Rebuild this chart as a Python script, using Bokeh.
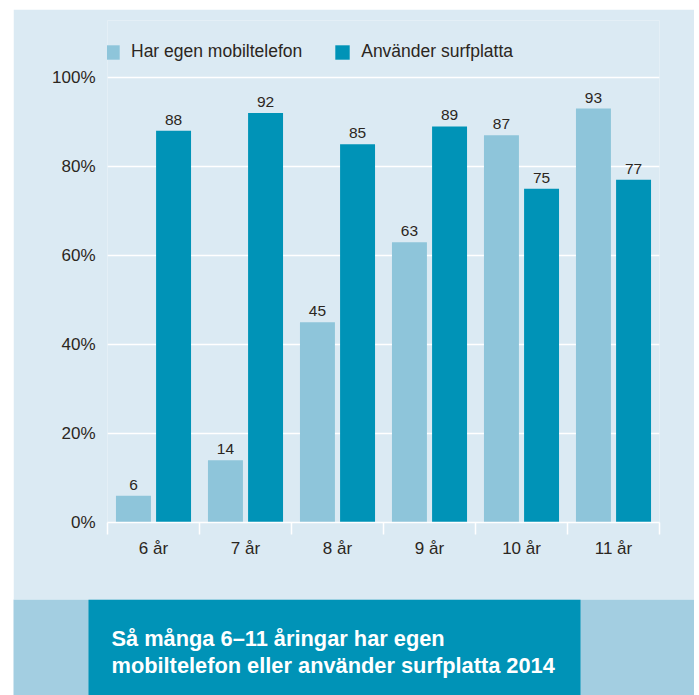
import numpy as np
from bokeh.plotting import figure
from bokeh.models import (ColumnDataSource, Range1d, FixedTicker, Legend, LegendItem,
                          PrintfTickFormatter, BoxAnnotation, Label)
from bokeh.transform import dodge
from bokeh.core.properties import value
from bokeh.embed import file_html
from bokeh.resources import INLINE

# ---- data ----
categories = ["6 år", "7 år", "8 år", "9 år", "10 år", "11 år"]
mobil = [6, 14, 45, 63, 87, 93]
surf = [88, 92, 85, 89, 75, 77]
series_names = ["Har egen mobiltelefon", "Använder surfplatta"]
y_ticks = [0, 20, 40, 60, 80, 100]
title_lines = ["Så många 6–11 åringar har egen",
               "mobiltelefon eller använder surfplatta 2014"]

PANEL = "#dbeaf3"
LIGHT = "#8ec5da"
DARK = "#0093b7"
BAND = "#a3cee1"
TXT = "#2b2621"
FONT = "Liberation Sans"

pos = np.arange(len(categories)) + 0.5
src = ColumnDataSource(dict(pos=pos, mobil=mobil, surf=surf,
                            mobil_lbl=[str(v) for v in mobil],
                            surf_lbl=[str(v) for v in surf]))

p = figure(width=681, height=590, output_backend="svg", toolbar_location=None,
           x_range=Range1d(0, len(categories)), y_range=Range1d(0, 112.8),
           min_border_left=94, min_border_right=35, min_border_top=11, min_border_bottom=77)
p.margin = (9, 0, 0, 13)
p.background_fill_color = PANEL
p.border_fill_color = PANEL
p.outline_line_color = None

off = 0.218
w = 0.38
r1 = p.vbar(x=dodge("pos", -off, range=p.x_range), top="mobil", width=w, source=src,
            color=LIGHT, line_color=None)
r2 = p.vbar(x=dodge("pos", off, range=p.x_range), top="surf", width=w, source=src,
            color=DARK, line_color=None)

for col, o in (("mobil", -off), ("surf", off)):
    p.text(x=dodge("pos", o, range=p.x_range), y=col, text=col + "_lbl", source=src,
           text_font=value(FONT), text_font_size="15.5px", text_color=TXT,
           text_align="center", text_baseline="alphabetic", y_offset=-11)

# y axis
p.yaxis.ticker = FixedTicker(ticks=y_ticks)
p.yaxis.formatter = PrintfTickFormatter(format="%d%%")
p.yaxis.axis_line_color = None
p.yaxis.major_tick_line_color = None
p.yaxis.minor_tick_line_color = None
p.yaxis.major_label_standoff = 6
p.yaxis.major_label_text_font = FONT
p.yaxis.major_label_text_font_size = "17px"
p.yaxis.major_label_text_color = TXT

# x axis
p.xaxis.ticker = FixedTicker(ticks=list(pos), minor_ticks=list(range(len(categories) + 1)))
p.xaxis.major_label_overrides = {float(x): c for x, c in zip(pos, categories)}
p.xaxis.axis_line_color = "white"
p.xaxis.axis_line_width = 1.5
p.xaxis.major_tick_line_color = None
p.xaxis.minor_tick_line_color = "white"
p.xaxis.minor_tick_line_width = 1.5
p.xaxis.minor_tick_in = 0
p.xaxis.minor_tick_out = 12
p.xaxis.major_label_standoff = 4
p.xaxis.major_label_text_font = FONT
p.xaxis.major_label_text_font_size = "17px"
p.xaxis.major_label_text_color = TXT

p.xgrid.grid_line_color = None
p.ygrid.grid_line_color = "white"
p.ygrid.grid_line_width = 1.5
p.ygrid.ticker = FixedTicker(ticks=y_ticks)

legend = Legend(items=[LegendItem(label=series_names[0], renderers=[r1]),
                       LegendItem(label=series_names[1], renderers=[r2])],
                location=(-4, 460), orientation="horizontal",
                background_fill_alpha=0, border_line_color=None,
                padding=0, margin=0, spacing=31,
                glyph_width=18, glyph_height=18, label_standoff=10, label_height=18,
                label_text_font=FONT, label_text_font_size="17.5px", label_text_color=TXT)
p.add_layout(legend)

# bottom band (separate root so its frame is not aligned with the chart's frame)
b = figure(width=681, height=96, output_backend="svg", toolbar_location=None,
           x_range=Range1d(0, 681), y_range=Range1d(0, 96),
           x_axis_location=None, y_axis_location=None, min_border=0)
b.margin = (0, 0, 0, 13)
b.background_fill_color = BAND
b.border_fill_color = BAND
b.outline_line_color = None
b.xgrid.visible = False
b.ygrid.visible = False
b.add_layout(BoxAnnotation(left=75, right=567, bottom=0, top=96,
                           fill_color=DARK, fill_alpha=1, line_color=None))
for i, line in enumerate(title_lines):
    b.add_layout(Label(x=98, y=57 - 27 * i, text=line, text_color="white",
                       text_font=FONT, text_font_size="21.8px", text_font_style="bold",
                       text_baseline="middle"))

open("out.html", "w").write(file_html([p, b], INLINE))
